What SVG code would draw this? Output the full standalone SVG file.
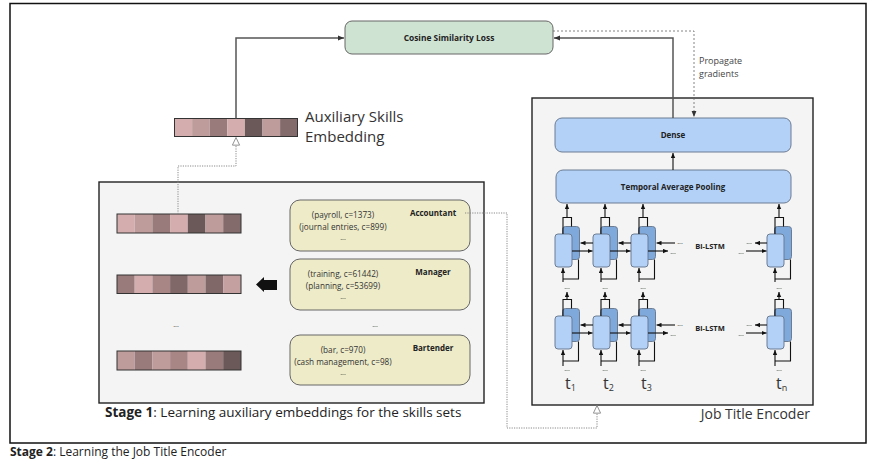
<svg xmlns="http://www.w3.org/2000/svg" width="876" height="466" viewBox="0 0 876 466">
<style>
text{font-family:"Open Sans","Liberation Sans",sans-serif;fill:#222}
.b{font-weight:bold}
.frame{fill:#f4f4f4;stroke:#222;stroke-width:1.4}
.skill{fill:#eeebc8;stroke:#666;stroke-width:1}
.blue{fill:#b3d1f7;stroke:#6b7c93;stroke-width:1}
.back{fill:#7fa8db;stroke:#6b7c93;stroke-width:1}
.conn{fill:none;stroke:#555;stroke-width:1.5}
.dot{fill:none;stroke:#8a8a8a;stroke-width:1;stroke-dasharray:1.2 1.2}
.dash{fill:none;stroke:#666;stroke-width:0.8;stroke-dasharray:2 2}
.ln{fill:none;stroke:#111;stroke-width:1.1}
.vb{fill:none;stroke:#333;stroke-width:1}
.sk{font-size:8.2px;text-anchor:middle;fill:#333}
.st{font-size:8px;text-anchor:middle;font-weight:bold}
.el{font-size:7px;text-anchor:middle;fill:#333}
.t{font-size:16px;fill:#333}
</style>
<defs>
<marker id="arr" viewBox="0 0 8 8" refX="8" refY="4" markerWidth="5" markerHeight="5" markerUnits="userSpaceOnUse" orient="auto"><path d="M0,0.5 L8,4 L0,7.5 z" fill="#111"/></marker>
<marker id="arrG" viewBox="0 0 8 8" refX="8" refY="4" markerWidth="6" markerHeight="6" markerUnits="userSpaceOnUse" orient="auto"><path d="M0,0.8 L8,4 L0,7.2 z" fill="#333"/></marker>
<marker id="hollow" viewBox="0 0 10 10" refX="9.5" refY="5" markerWidth="9" markerHeight="9" markerUnits="userSpaceOnUse" orient="auto"><path d="M1,1 L9.5,5 L1,9 z" fill="#fff" stroke="#888" stroke-width="1"/></marker>
</defs>

<rect id="stage2" x="10" y="3.5" width="856" height="439.5" fill="#fff" stroke="#111" stroke-width="1.5"/>
<text x="10" y="456" style="font-size:12px"><tspan class="b">Stage 2</tspan>: Learning the Job Title Encoder</text>

<g id="stage1">
<rect class="frame" x="99" y="182" width="385" height="221"/>
<text x="105" y="417" style="font-size:13.5px"><tspan class="b">Stage 1</tspan>: Learning auxiliary embeddings for the skills sets</text>
</g>

<g id="encoder">
<rect class="frame" x="532" y="98" width="281" height="307"/>
<text x="810" y="419" style="font-size:14px;text-anchor:end;fill:#333">Job Title Encoder</text>
</g>

<g id="cosine">
<rect x="345" y="21" width="208" height="33" rx="7" fill="#cfe3d3" stroke="#666" stroke-width="1"/>
<text class="st" x="449" y="40.5" style="font-size:8.4px">Cosine Similarity Loss</text>
</g>

<g id="aux">
<rect x="174.5" y="118.5" width="17.6" height="18" fill="#d4aeae"/>
<rect x="192.1" y="118.5" width="17.6" height="18" fill="#bf9c9c"/>
<rect x="209.7" y="118.5" width="17.6" height="18" fill="#9a7b7b"/>
<rect x="227.3" y="118.5" width="17.6" height="18" fill="#d4aeae"/>
<rect x="244.9" y="118.5" width="17.6" height="18" fill="#6b5858"/>
<rect x="262.5" y="118.5" width="17.6" height="18" fill="#bf9c9c"/>
<rect x="280.1" y="118.5" width="17.4" height="18" fill="#846b6b"/>
<rect class="vb" x="174.5" y="118.5" width="123" height="18"/>
<text x="305" y="122" style="font-size:15px;fill:#333">Auxiliary Skills</text>
<text x="305" y="142" style="font-size:15px;fill:#333">Embedding</text>
</g>

<g id="vec1">
<rect x="117" y="214" width="17.7" height="19" fill="#d4aeae"/>
<rect x="134.7" y="214" width="17.7" height="19" fill="#bf9c9c"/>
<rect x="152.4" y="214" width="17.7" height="19" fill="#9a7b7b"/>
<rect x="170.1" y="214" width="17.7" height="19" fill="#d4aeae"/>
<rect x="187.8" y="214" width="17.7" height="19" fill="#6b5858"/>
<rect x="205.5" y="214" width="17.7" height="19" fill="#bf9c9c"/>
<rect x="223.2" y="214" width="17.8" height="19" fill="#846b6b"/>
<rect class="vb" x="117" y="214" width="124" height="19"/>
</g>
<g id="vec2">
<rect x="117" y="275" width="17.7" height="18.5" fill="#9a7b7b"/>
<rect x="134.7" y="275" width="17.7" height="18.5" fill="#d4aeae"/>
<rect x="152.4" y="275" width="17.7" height="18.5" fill="#a88686"/>
<rect x="170.1" y="275" width="17.7" height="18.5" fill="#806868"/>
<rect x="187.8" y="275" width="17.7" height="18.5" fill="#bf9c9c"/>
<rect x="205.5" y="275" width="17.7" height="18.5" fill="#806868"/>
<rect x="223.2" y="275" width="17.8" height="18.5" fill="#c4a0a0"/>
<rect class="vb" x="117" y="275" width="124" height="18.5"/>
</g>
<text class="el" x="176" y="327">...</text>
<g id="vec3">
<rect x="117" y="351" width="17.7" height="19" fill="#bf9c9c"/>
<rect x="134.7" y="351" width="17.7" height="19" fill="#9a7b7b"/>
<rect x="152.4" y="351" width="17.7" height="19" fill="#bf9c9c"/>
<rect x="170.1" y="351" width="17.7" height="19" fill="#a88686"/>
<rect x="187.8" y="351" width="17.7" height="19" fill="#d4aeae"/>
<rect x="205.5" y="351" width="17.7" height="19" fill="#9a7b7b"/>
<rect x="223.2" y="351" width="17.8" height="19" fill="#6b5858"/>
<rect class="vb" x="117" y="351" width="124" height="19"/>
</g>

<g id="bigarrow">
<polygon points="256,284.5 264,277 264,280 277,280 277,290 264,290 264,292" fill="#111"/>
</g>

<g id="accountant">
<rect class="skill" x="290" y="200" width="180" height="51" rx="10"/>
<text class="st" x="433" y="216">Accountant</text>
<text class="sk" x="343" y="218">(payroll, c=1373)</text>
<text class="sk" x="343" y="229.5">(journal entries, c=899)</text>
<text class="el" x="343" y="240">...</text>
</g>
<g id="manager">
<rect class="skill" x="290" y="259" width="180" height="51" rx="10"/>
<text class="st" x="433" y="275">Manager</text>
<text class="sk" x="343" y="277">(training, c=61442)</text>
<text class="sk" x="343" y="288.5">(planning, c=53699)</text>
<text class="el" x="343" y="299">...</text>
</g>
<text class="el" x="375" y="327">...</text>
<g id="bartender">
<rect class="skill" x="290" y="335" width="180" height="50" rx="10"/>
<text class="st" x="433" y="351">Bartender</text>
<text class="sk" x="343" y="353">(bar, c=970)</text>
<text class="sk" x="343" y="364.5">(cash management, c=98)</text>
<text class="el" x="343" y="375">...</text>
</g>

<g id="dense">
<rect class="blue" x="555" y="118" width="236" height="34" rx="7"/>
<text class="st" x="673" y="138">Dense</text>
</g>
<g id="pooling">
<rect class="blue" x="556" y="170" width="235" height="33" rx="7"/>
<text class="st" x="673" y="189.5">Temporal Average Pooling</text>
</g>

<g id="lstm-cells">
<g id="c1u"><rect class="back" x="562.5" y="226.5" width="17" height="33" rx="3"/><rect class="blue" x="555" y="234" width="17" height="33" rx="3"/></g>
<g id="c2u"><rect class="back" x="600.5" y="226.5" width="17" height="33" rx="3"/><rect class="blue" x="593" y="234" width="17" height="33" rx="3"/></g>
<g id="c3u"><rect class="back" x="638.5" y="226.5" width="17" height="33" rx="3"/><rect class="blue" x="631" y="234" width="17" height="33" rx="3"/></g>
<g id="cnu"><rect class="back" x="774.5" y="226.5" width="17" height="33" rx="3"/><rect class="blue" x="767" y="234" width="17" height="33" rx="3"/></g>
<g id="c1l"><rect class="back" x="562.5" y="308.5" width="17" height="33" rx="3"/><rect class="blue" x="555" y="316" width="17" height="33" rx="3"/></g>
<g id="c2l"><rect class="back" x="600.5" y="308.5" width="17" height="33" rx="3"/><rect class="blue" x="593" y="316" width="17" height="33" rx="3"/></g>
<g id="c3l"><rect class="back" x="638.5" y="308.5" width="17" height="33" rx="3"/><rect class="blue" x="631" y="316" width="17" height="33" rx="3"/></g>
<g id="cnl"><rect class="back" x="774.5" y="308.5" width="17" height="33" rx="3"/><rect class="blue" x="767" y="316" width="17" height="33" rx="3"/></g>
<text class="st" x="710" y="249" style="font-size:7.5px">Bi-LSTM</text>
<text class="st" x="710" y="331" style="font-size:7.5px">Bi-LSTM</text>
<text class="el" x="567" y="289">...</text>
<text class="el" x="605" y="289">...</text>
<text class="el" x="643" y="289">...</text>
<text class="el" x="779" y="289">...</text>
<text class="el" x="567" y="371">...</text>
<text class="el" x="605" y="371">...</text>
<text class="el" x="643" y="371">...</text>
<text class="el" x="779" y="371">...</text>
<text class="el" x="680" y="244">...</text>
<text class="el" x="673" y="254">...</text>
<text class="el" x="749" y="244">...</text>
<text class="el" x="741" y="254">...</text>
<text class="el" x="680" y="326">...</text>
<text class="el" x="673" y="336">...</text>
<text class="el" x="749" y="326">...</text>
<text class="el" x="741" y="336">...</text>
<text class="t" x="565" y="389">t<tspan font-size="9" dy="2">1</tspan></text>
<text class="t" x="603" y="389">t<tspan font-size="9" dy="2">2</tspan></text>
<text class="t" x="641" y="389">t<tspan font-size="9" dy="2">3</tspan></text>
<text class="t" x="776" y="389">t<tspan font-size="9" dy="2">n</tspan></text>
</g>

<g id="connectors">
<path class="conn" d="M236,118.5 V38 H344" marker-end="url(#arrG)"/>
<path class="conn" d="M673,118 V38 H554" marker-end="url(#arrG)"/>
<path class="dash" d="M553,31 H694 V117" marker-end="url(#arrG)"/>
<text x="699" y="64" style="font-size:9px;fill:#444">Propagate</text>
<text x="699" y="77" style="font-size:9px;fill:#444">gradients</text>
<path class="ln" d="M673,170 V153" marker-end="url(#arr)"/>
<path class="dot" d="M178,214 V166 H236 V137.5" marker-end="url(#hollow)"/>
<path class="dot" d="M465,213 H507 V428 H597 V405.5" marker-end="url(#hollow)"/>

<path class="ln" d="M563,234 V217.5 H571.5 V226.5 M578.5,259.5 V279 H563"/>
<path class="ln" d="M567,217.5 V204" marker-end="url(#arr)"/>
<path class="ln" d="M563,282 V268" marker-end="url(#arr)"/>
<path class="ln" d="M601,234 V217.5 H609.5 V226.5 M616.5,259.5 V279 H601"/>
<path class="ln" d="M605,217.5 V204" marker-end="url(#arr)"/>
<path class="ln" d="M601,282 V268" marker-end="url(#arr)"/>
<path class="ln" d="M639,234 V217.5 H647.5 V226.5 M654.5,259.5 V279 H639"/>
<path class="ln" d="M643,217.5 V204" marker-end="url(#arr)"/>
<path class="ln" d="M639,282 V268" marker-end="url(#arr)"/>
<path class="ln" d="M775,234 V217.5 H783.5 V226.5 M790.5,259.5 V279 H775"/>
<path class="ln" d="M779,217.5 V204" marker-end="url(#arr)"/>
<path class="ln" d="M775,282 V268" marker-end="url(#arr)"/>

<path class="ln" d="M563,316 V299.5 H571.5 V308.5 M578.5,341.5 V361 H563"/>
<path class="ln" d="M567,299.5 V292" marker-end="url(#arr)"/>
<path class="ln" d="M563,366 V350" marker-end="url(#arr)"/>
<path class="ln" d="M601,316 V299.5 H609.5 V308.5 M616.5,341.5 V361 H601"/>
<path class="ln" d="M605,299.5 V292" marker-end="url(#arr)"/>
<path class="ln" d="M601,366 V350" marker-end="url(#arr)"/>
<path class="ln" d="M639,316 V299.5 H647.5 V308.5 M654.5,341.5 V361 H639"/>
<path class="ln" d="M643,299.5 V292" marker-end="url(#arr)"/>
<path class="ln" d="M639,366 V350" marker-end="url(#arr)"/>
<path class="ln" d="M775,316 V299.5 H783.5 V308.5 M790.5,341.5 V361 H775"/>
<path class="ln" d="M779,299.5 V292" marker-end="url(#arr)"/>
<path class="ln" d="M775,366 V350" marker-end="url(#arr)"/>

<path class="ln" d="M593,243 H580.5" marker-end="url(#arr)"/>
<path class="ln" d="M572,251 H592.5" marker-end="url(#arr)"/>
<path class="ln" d="M631,243 H618.5" marker-end="url(#arr)"/>
<path class="ln" d="M610,251 H630.5" marker-end="url(#arr)"/>
<path class="ln" d="M675,243 H656.5" marker-end="url(#arr)"/>
<path class="ln" d="M648,251 H668" marker-end="url(#arr)"/>
<path class="ln" d="M767,243 H755" marker-end="url(#arr)"/>
<path class="ln" d="M746,251 H766.5" marker-end="url(#arr)"/>

<path class="ln" d="M593,325 H580.5" marker-end="url(#arr)"/>
<path class="ln" d="M572,333 H592.5" marker-end="url(#arr)"/>
<path class="ln" d="M631,325 H618.5" marker-end="url(#arr)"/>
<path class="ln" d="M610,333 H630.5" marker-end="url(#arr)"/>
<path class="ln" d="M675,325 H656.5" marker-end="url(#arr)"/>
<path class="ln" d="M648,333 H668" marker-end="url(#arr)"/>
<path class="ln" d="M767,325 H755" marker-end="url(#arr)"/>
<path class="ln" d="M746,333 H766.5" marker-end="url(#arr)"/>
</g>
</svg>
